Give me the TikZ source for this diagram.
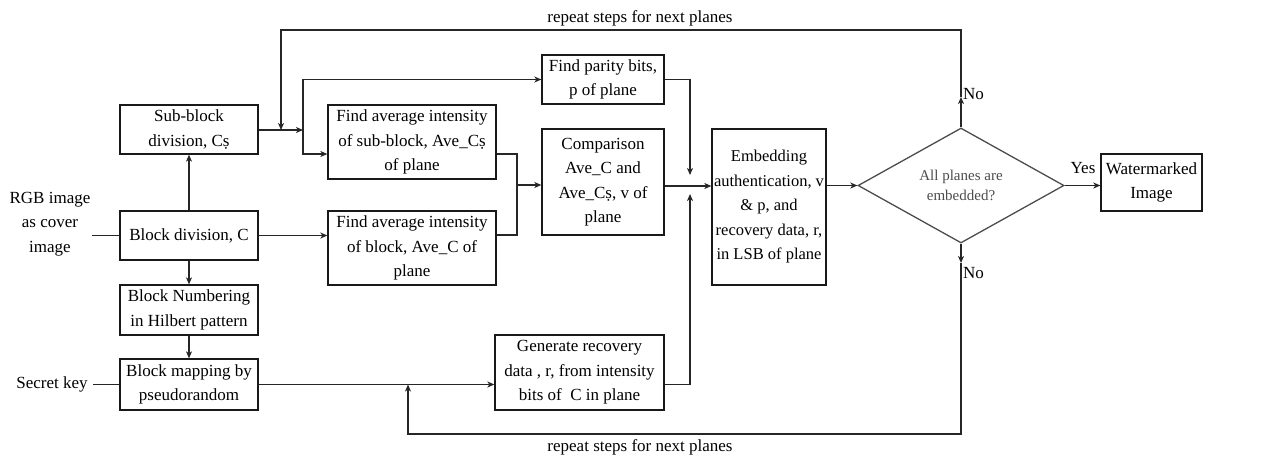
\documentclass[tikz,border=0pt]{standalone}
\usepackage{fontspec}
\setmainfont{Liberation Serif}
\usetikzlibrary{shapes.geometric,arrows.meta}
\begin{document}
\begin{tikzpicture}[x=1pt,y=-1pt,
  every node/.style={font=\fontsize{17}{24.5}\selectfont},
  box/.style={draw=black!90,line width=1.3pt,align=center,inner sep=1pt},
  ln/.style={line width=1.3pt,draw=black!85},
  arr/.style={ln,-{Stealth[length=7pt,width=6pt,inset=2pt]}},
  lbl/.style={inner sep=0pt}
]
\useasboundingbox (0,0) rectangle (1264,458);
% nodes
\node[box,minimum width=138,minimum height=49] (sub) at (189,129.5) {Sub-block\\division, Cṣ};
\node[box,minimum width=138,minimum height=49] (blk) at (189,235.5) {Block division, C};
\node[box,minimum width=138,minimum height=50] (num) at (189,310) {Block Numbering\\in Hilbert pattern};
\node[box,minimum width=138,minimum height=51] (map) at (189,384.5) {Block mapping by\\pseudorandom};
\node[box,minimum width=168,minimum height=74] (avgs) at (412,142) {Find average intensity\\of sub-block, Ave\_Cṣ\\of plane};
\node[box,minimum width=168,minimum height=74] (avgb) at (412,248) {Find average intensity\\of block, Ave\_C of\\plane};
\node[box,minimum width=122,minimum height=49] (par) at (603,79.5) {Find parity bits,\\p of plane};
\node[box,minimum width=122,minimum height=106] (cmp) at (603,182) {Comparison\\Ave\_C and\\Ave\_Cṣ, v of\\plane};
\node[box,minimum width=169,minimum height=75] (gen) at (579.5,372.5) {Generate recovery\\data , r, from intensity\\bits of\ \ C in plane};
\node[box,minimum width=114,minimum height=156,font=\fontsize{16.5}{24.5}\selectfont] (emb) at (769,207) {Embedding\\authentication, v\\\& p, and\\recovery data, r,\\in LSB of plane};
\node[diamond,draw=black!70,line width=1.3pt,minimum width=206,minimum height=115,aspect=1.8,inner sep=0pt,align=center,text=black!70,font=\fontsize{15}{20}\selectfont] (dia) at (961,185.5) {All planes are\\embedded?};
\node[box,minimum width=101,minimum height=57] (wm) at (1151.5,182.5) {Watermarked\\Image};
\node[align=center,inner sep=1pt] (rgb) at (50,224) {RGB image\\as cover\\image};
\node[inner sep=1pt] (key) at (52,384.5) {Secret key};
% coordinates
\coordinate (j1) at (303,130);
\coordinate (j0) at (281,130);
\coordinate (j2) at (517,185);
\coordinate (j3) at (690,186);
\coordinate (upNo) at (961,97);
\coordinate (dnNo) at (961,263);
\coordinate (jb) at (408,384.5);
% connectors
\draw[ln] (rgb.east |- blk.west) -- (blk.west);
\draw[ln] ([xshift=4pt]key.east) -- (map.west);
\draw[arr] (blk) -- (sub);
\draw[arr] (blk) -- (num);
\draw[arr] (num) -- (map);
\draw[arr] (blk.east) -- (avgb.west |- blk.east);
\draw[arr] (sub.east |- j1) -- (j1);
\draw[arr] (j1) |- (par.west);
\draw[arr] (j1) |- ([yshift=-12pt]avgs.west);
\draw[ln] ([yshift=-12pt]avgs.east) -| (j2);
\draw[ln] ([yshift=13pt]avgb.east) -| (j2);
\draw[arr] (j2) -- (cmp.west |- j2);
\draw[arr] (par.east) -| ([yshift=11pt]j3);
\draw[arr] ([yshift=-12pt]gen.east) -| ([yshift=-8pt]j3);
\draw[arr] (cmp.east |- j3) -- (emb.west |- j3);
\draw[arr] (emb.east |- dia.west) -- (dia.west);
\draw[arr] (dia.east) -- (wm.west |- dia.east);
\draw[arr] (dia.north) -- (upNo);
\draw[arr] (upNo) -- (961,30) -| (j0);
\draw[arr] (dia.south) -- (dnNo);
\draw[arr] (dnNo) -- (961,434) -| (jb);
\draw[arr] (map.east) -- (gen.west |- map.east);
% labels
\node[lbl,anchor=west] (no1) at (963,94) {No};
\node[lbl,anchor=west] (no2) at (963,273) {No};
\node[lbl] (yes) at (1083,168) {Yes};
\node[lbl] (rt) at (640,18) {repeat steps for next planes};
\node[lbl] (rb) at (640,447) {repeat steps for next planes};
\end{tikzpicture}
\end{document}
